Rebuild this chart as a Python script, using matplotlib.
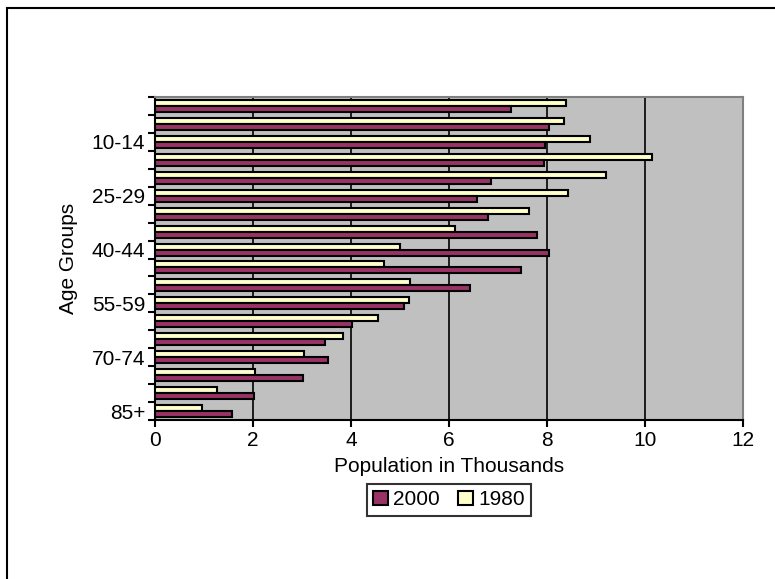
import matplotlib
matplotlib.use("Agg")
import matplotlib.pyplot as plt
import numpy as np
from matplotlib.patches import Rectangle

plt.rcParams['font.family'] = ['Liberation Sans', 'DejaVu Sans']

ages = ['0-4', '5-9', '10-14', '15-19', '20-24', '25-29', '30-34', '35-39', '40-44',
        '45-49', '50-54', '55-59', '60-64', '65-69', '70-74', '75-79', '80-84', '85+']
pop_2000 = [7.26, 8.05, 7.96, 7.94, 6.85, 6.57, 6.79, 7.79, 8.05,
            7.46, 6.42, 5.09, 4.03, 3.46, 3.53, 3.02, 2.03, 1.57]
pop_1980 = [8.39, 8.35, 8.87, 10.14, 9.20, 8.42, 7.64, 6.12, 5.01,
            4.67, 5.21, 5.19, 4.56, 3.84, 3.04, 2.05, 1.27, 0.96]

W, H = 775, 579
fig = plt.figure(figsize=(W / 100, H / 100), dpi=100)
ax = fig.add_axes([155 / W, 1 - 420 / H, (743 - 155) / W, (420 - 97) / H])

# outer chart border
fig.patches.append(Rectangle((7 / W, -0.1), 1.2, 1 - 8 / H + 0.1, transform=fig.transFigure,
                             fill=False, edgecolor='black', linewidth=1.5))

ax.set_facecolor('#C0C0C0')
y = np.arange(len(ages))
h = 1 / 3
ax.barh(y - h / 2, pop_1980, height=h, color='#FFFFCC', edgecolor='black', linewidth=1.5,
        label='1980', zorder=3)
ax.barh(y + h / 2, pop_2000, height=h, color='#993366', edgecolor='black', linewidth=1.5,
        label='2000', zorder=3)

ax.set_xlim(0, 12)
ax.set_ylim(len(ages) - 0.5, -0.5)
ax.set_xticks(range(0, 13, 2))
ax.xaxis.grid(True, color='black', linewidth=1.2, zorder=1)
ax.set_axisbelow(True)

# category boundary ticks, labels every third group
ax.set_yticks(np.arange(-0.5, len(ages), 1), minor=True)
ax.set_yticks(y[2::3])
ax.set_yticklabels(ages[2::3])
ax.tick_params(axis='y', which='major', length=0, labelsize=15, pad=7)
ax.tick_params(axis='y', which='minor', length=5, width=1.5, direction='out')
ax.tick_params(axis='x', length=5, width=1.5, direction='out', labelsize=15, pad=3)

for s in ['top', 'right']:
    ax.spines[s].set_color('#808080')
    ax.spines[s].set_linewidth(1.5)
for s in ['left', 'bottom']:
    ax.spines[s].set_linewidth(1.5)

ax.set_xlabel('Population in Thousands', fontsize=15, labelpad=5)
ax.set_ylabel('Age Groups', fontsize=15, labelpad=10)

handles, labels = ax.get_legend_handles_labels()
leg = ax.legend(handles[::-1], labels[::-1], loc='upper center',
                bbox_to_anchor=(0.5, -(484 - 420) / (420 - 97)),
                ncol=2, fontsize=15, frameon=True, fancybox=False, handlelength=0.7,
                handleheight=0.7, handletextpad=0.25, columnspacing=0.9, borderpad=0.3,
                borderaxespad=0)
leg.get_frame().set_edgecolor('black')
leg.get_frame().set_linewidth(1.5)

fig.savefig('out.png', dpi=100)
